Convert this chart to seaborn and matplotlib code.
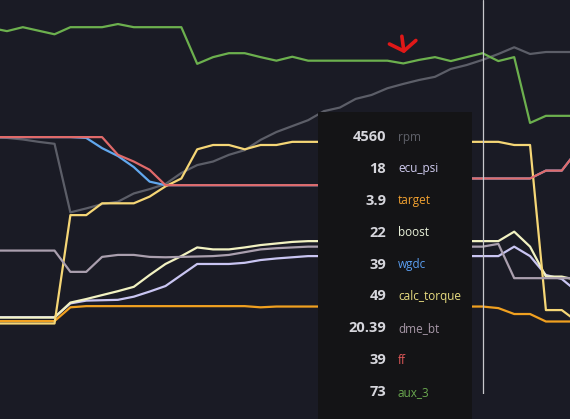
import matplotlib
matplotlib.use("Agg")
import matplotlib.pyplot as plt
import pandas as pd
import seaborn as sns
from matplotlib.patches import Rectangle

# log samples (index) and each channel, normalised to 0-100 of the panel height
samples = list(range(-1, 37))

rpm = [65.1, 65.0, 64.6, 64.0, 63.5, 46.1, 47.1, 48.2, 48.8, 50.9, 52.0, 53.3, 56.1,
       58.1, 59.0, 60.7, 61.9, 64.5, 66.5, 68.0, 69.5, 71.8, 72.7, 74.9, 75.9, 77.6,
       78.7, 79.7, 80.5, 82.5, 83.5, 84.8, 86.3, 88.0, 86.3, 86.8, 86.8, 86.8]
ecu_psi = [19.5, 19.5, 19.5, 19.5, 19.5, 23.0, 23.7, 23.8, 23.9, 24.7, 26.0, 27.4, 30.2,
           33.0, 33.0, 33.0, 33.3, 34.0, 34.4, 34.7, 35.0, 35.0, 35.0, 35.0, 35.0, 35.0,
           35.0, 35.0, 35.0, 35.0, 35.0, 35.0, 35.0, 37.4, 35.0, 30.2, 29.2, 25.9]
target = [18.5, 18.5, 18.5, 18.5, 18.5, 22.0, 22.3, 22.3, 22.3, 22.3, 22.3, 22.3, 22.3,
          22.3, 22.3, 22.3, 22.3, 22.0, 22.2, 22.2, 22.2, 22.2, 22.2, 22.2, 22.2, 22.2,
          22.2, 22.2, 22.2, 22.2, 22.2, 22.2, 21.8, 20.3, 20.3, 18.4, 18.4, 18.4]
boost = [19.4, 19.4, 19.4, 19.4, 19.4, 23.2, 24.1, 25.1, 26.1, 27.2, 30.2, 33.0, 35.0,
         37.2, 36.7, 36.7, 37.2, 37.8, 38.2, 38.6, 38.8, 38.8, 38.8, 38.8, 38.8, 38.8,
         38.8, 38.8, 38.8, 38.8, 38.8, 38.8, 38.8, 41.2, 37.4, 29.8, 29.8, 28.9]
wgdc = [65.2, 65.2, 65.2, 65.2, 65.2, 65.2, 65.0, 62.4, 60.4, 57.6, 53.9, 53.0, 53.0,
        53.0, 53.0, 53.0, 53.0, 53.0, 53.0, 53.0, 53.0, 53.0, 53.0, 53.0, 54.7, 54.7,
        54.7, 54.7, 54.7, 54.7, 54.7, 54.7, 54.7, 54.7, 54.7, 56.7, 56.7, 61.9]
calc_torque = [17.9, 17.9, 17.9, 17.9, 17.9, 45.4, 45.4, 48.4, 48.4, 48.4, 50.1, 52.7, 54.7,
               62.1, 63.2, 63.2, 62.1, 63.2, 63.2, 64.0, 64.0, 64.0, 64.0, 64.0, 64.0, 64.0,
               64.0, 64.0, 64.0, 64.0, 64.0, 64.0, 64.0, 63.2, 63.2, 21.3, 21.3, 18.3]
dme_bt = [36.4, 36.4, 36.4, 36.4, 36.4, 31.0, 31.0, 34.8, 35.3, 35.3, 34.8, 34.7, 34.8,
          34.9, 35.0, 35.3, 36.0, 36.7, 37.0, 37.2, 37.4, 37.4, 37.4, 37.4, 37.4, 37.4,
          37.4, 37.4, 37.4, 37.4, 37.4, 37.4, 38.1, 29.4, 29.4, 29.4, 29.4, 29.4]
ff = [65.2, 65.2, 65.2, 65.2, 65.2, 65.2, 65.2, 65.2, 60.7, 59.0, 56.9, 53.0, 53.0,
      53.0, 53.0, 53.0, 53.0, 53.0, 53.0, 53.0, 53.0, 53.0, 53.0, 53.0, 54.7, 54.7,
      54.7, 54.7, 54.7, 54.7, 54.7, 54.7, 54.7, 54.7, 54.7, 56.7, 56.7, 61.9]
aux_3 = [92.9, 92.1, 93.1, 92.2, 91.3, 93.1, 93.1, 93.1, 93.9, 93.1, 93.1, 93.1, 93.1,
         83.8, 85.5, 86.5, 86.5, 85.5, 84.6, 85.6, 84.6, 84.6, 84.6, 84.6, 84.6, 84.6,
         83.9, 84.8, 85.5, 84.5, 85.5, 86.5, 84.5, 85.5, 68.8, 70.6, 70.6, 70.6]

series_names = ["rpm", "ecu_psi", "target", "boost", "wgdc",
                "calc_torque", "dme_bt", "ff", "aux_3"]
series_values = [rpm, ecu_psi, target, boost, wgdc, calc_torque, dme_bt, ff, aux_3]
line_colors = ["#5c5e68", "#c9c5f2", "#f0a020", "#f2f2c2", "#62a8ee",
               "#f5d676", "#aa9fae", "#e06a6a", "#6cb04e"]
label_colors = ["#5f6169", "#d0ccf0", "#f0a030", "#e8f0d8", "#5a9ef0",
                "#e8dc80", "#a898a8", "#e05858", "#6aa84f"]

# values shown in the hover tooltip at the cursor sample
cursor_sample = 30
tooltip_values = ["4560", "18", "3.9", "22", "39", "49", "20.39", "39", "73"]

df = pd.concat(
    [pd.DataFrame({"sample": samples, "value": vals, "series": name})
     for name, vals in zip(series_names, series_values)],
    ignore_index=True,
)

bg = "#1a1b25"
sns.set_theme(style="dark", rc={"axes.facecolor": bg, "figure.facecolor": bg})
plt.rcParams["font.family"] = ["Open Sans", "DejaVu Sans"]

fig = plt.figure(figsize=(5.7, 4.19), dpi=100)
ax = fig.add_axes([0, 25 / 419, 1, 394 / 419])

sns.lineplot(data=df, x="sample", y="value", hue="series", hue_order=series_names,
             palette=dict(zip(series_names, line_colors)), linewidth=1.6,
             legend=False, ax=ax)

ax.set_xlim(-0.44, 35.52)
ax.set_ylim(0, 100)
ax.axis("off")

ax.axvline(cursor_sample, color="#c8c8cc", linewidth=0.9, zorder=10)

# hand-drawn red marker
ax.annotate("", xy=(0.709, 0.865), xytext=(0.705, 0.908), xycoords="axes fraction",
            arrowprops=dict(arrowstyle="->,head_length=0.32,head_width=0.48",
                            color="#e01818", lw=2.6, shrinkA=0, shrinkB=0,
                            mutation_scale=20))

# tooltip panel
fig.add_artist(Rectangle((318 / 570, 0), 154 / 570, 307 / 419, transform=fig.transFigure,
                         facecolor="#141416", edgecolor="none", zorder=5))

row_top = 1 - 137 / 419
row_step = 31.9 / 419
for k, (name, val, col) in enumerate(zip(series_names, tooltip_values, label_colors)):
    y = row_top - k * row_step
    fig.text(386 / 570, y, val, ha="right", va="center", color="#d6d6dc",
             fontsize=10.5, fontweight="bold", zorder=6)
    fig.text(398 / 570, y, name, ha="left", va="center", color=col,
             fontsize=8.5, zorder=6)

fig.savefig("out.png", dpi=100, facecolor=bg)
